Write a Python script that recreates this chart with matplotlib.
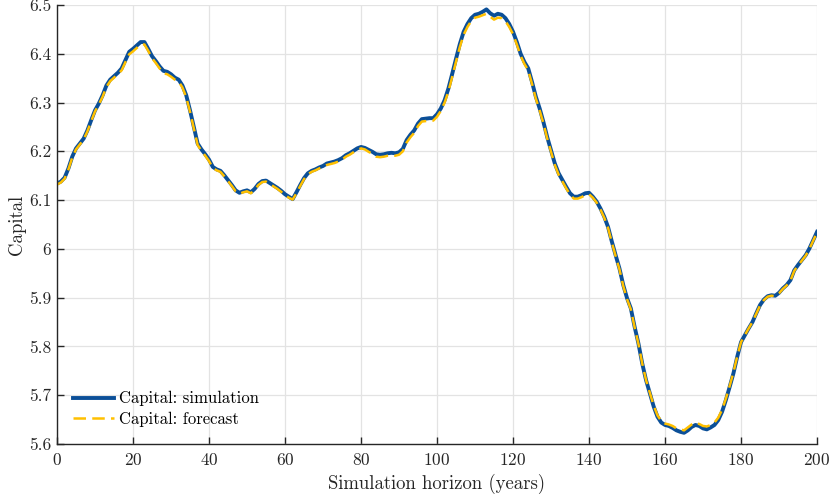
import numpy as np
import matplotlib
matplotlib.use('Agg')
import matplotlib.pyplot as plt
from matplotlib.ticker import FuncFormatter

plt.rcParams['font.family'] = ['cmr10', 'DejaVu Serif']
plt.rcParams['axes.formatter.use_mathtext'] = True

years = np.arange(0, 201)

simulation = [
    6.134, 6.138, 6.146, 6.165, 6.189, 6.206, 6.216, 6.226, 6.243, 6.264,
    6.284, 6.298, 6.315, 6.335, 6.347, 6.354, 6.361, 6.370, 6.387, 6.404,
    6.410, 6.417, 6.424, 6.424, 6.410, 6.395, 6.385, 6.374, 6.365, 6.363,
    6.358, 6.351, 6.347, 6.335, 6.315, 6.284, 6.250, 6.216, 6.204, 6.194,
    6.183, 6.168, 6.163, 6.160, 6.151, 6.141, 6.131, 6.120, 6.115, 6.118,
    6.120, 6.116, 6.123, 6.133, 6.139, 6.140, 6.135, 6.130, 6.125, 6.119,
    6.112, 6.107, 6.102, 6.116, 6.131, 6.145, 6.155, 6.160, 6.163, 6.167,
    6.170, 6.175, 6.177, 6.179, 6.182, 6.186, 6.192, 6.196, 6.201, 6.206,
    6.209, 6.207, 6.203, 6.199, 6.194, 6.193, 6.194, 6.196, 6.197, 6.196,
    6.198, 6.205, 6.223, 6.234, 6.243, 6.257, 6.266, 6.267, 6.268, 6.268,
    6.276, 6.288, 6.305, 6.329, 6.359, 6.390, 6.420, 6.445, 6.461, 6.473,
    6.480, 6.482, 6.486, 6.491, 6.483, 6.478, 6.482, 6.480, 6.473, 6.461,
    6.445, 6.424, 6.400, 6.383, 6.370, 6.342, 6.312, 6.288, 6.260, 6.229,
    6.202, 6.175, 6.155, 6.141, 6.127, 6.114, 6.107, 6.107, 6.110, 6.114,
    6.115, 6.107, 6.097, 6.083, 6.066, 6.045, 6.015, 5.987, 5.960, 5.926,
    5.899, 5.878, 5.840, 5.806, 5.765, 5.731, 5.704, 5.677, 5.656, 5.644,
    5.639, 5.637, 5.633, 5.628, 5.625, 5.623, 5.628, 5.635, 5.639, 5.637,
    5.632, 5.630, 5.634, 5.639, 5.649, 5.666, 5.690, 5.717, 5.745, 5.779,
    5.809, 5.823, 5.837, 5.850, 5.868, 5.885, 5.896, 5.903, 5.905, 5.904,
    5.910, 5.919, 5.926, 5.936, 5.956, 5.967, 5.977, 5.987, 6.001, 6.018,
    6.035,
]

forecast = [
    6.132, 6.136, 6.144, 6.163, 6.187, 6.204, 6.214, 6.224, 6.241, 6.262,
    6.282, 6.296, 6.312, 6.332, 6.344, 6.351, 6.358, 6.366, 6.383, 6.399,
    6.405, 6.412, 6.419, 6.419, 6.406, 6.391, 6.381, 6.370, 6.360, 6.358,
    6.353, 6.347, 6.343, 6.331, 6.311, 6.281, 6.247, 6.213, 6.201, 6.191,
    6.180, 6.166, 6.161, 6.158, 6.149, 6.139, 6.129, 6.118, 6.113, 6.116,
    6.118, 6.114, 6.121, 6.131, 6.137, 6.138, 6.133, 6.128, 6.123, 6.117,
    6.110, 6.105, 6.101, 6.114, 6.129, 6.143, 6.153, 6.158, 6.161, 6.165,
    6.168, 6.172, 6.174, 6.176, 6.179, 6.183, 6.189, 6.193, 6.198, 6.203,
    6.206, 6.204, 6.199, 6.195, 6.189, 6.188, 6.189, 6.191, 6.192, 6.191,
    6.193, 6.200, 6.218, 6.229, 6.238, 6.252, 6.261, 6.262, 6.263, 6.263,
    6.271, 6.283, 6.300, 6.323, 6.353, 6.384, 6.414, 6.439, 6.455, 6.467,
    6.474, 6.476, 6.479, 6.482, 6.476, 6.470, 6.474, 6.473, 6.467, 6.455,
    6.440, 6.419, 6.396, 6.379, 6.366, 6.338, 6.308, 6.284, 6.257, 6.226,
    6.199, 6.172, 6.152, 6.138, 6.124, 6.111, 6.103, 6.103, 6.106, 6.110,
    6.112, 6.105, 6.095, 6.081, 6.064, 6.043, 6.013, 5.985, 5.958, 5.924,
    5.897, 5.876, 5.839, 5.805, 5.765, 5.731, 5.705, 5.679, 5.659, 5.647,
    5.642, 5.640, 5.637, 5.632, 5.630, 5.628, 5.634, 5.640, 5.644, 5.641,
    5.637, 5.636, 5.639, 5.644, 5.654, 5.670, 5.693, 5.719, 5.747, 5.780,
    5.809, 5.823, 5.837, 5.850, 5.867, 5.884, 5.895, 5.902, 5.904, 5.903,
    5.909, 5.918, 5.925, 5.935, 5.955, 5.966, 5.976, 5.986, 6.000, 6.017,
    6.034,
]

fig = plt.figure(figsize=(8.3, 4.94), dpi=100)
ax = fig.add_axes([0.0687, 0.1012, 0.9157, 0.8887])

ax.plot(years, simulation, color='#0B4F98', lw=2.8, label='Capital: simulation')
ax.plot(years, forecast, color='#FFC000', lw=1.8, ls=(0, (5, 2.5)), label='Capital: forecast')

ax.set_xlim(0, 200)
ax.set_ylim(5.6, 6.5)
ax.set_xticks(np.arange(0, 201, 20))
ax.set_yticks(np.arange(5.6, 6.501, 0.1))
ax.yaxis.set_major_formatter(FuncFormatter(lambda v, p: '%g' % round(v, 2)))

ax.grid(True, color='#e3e3e3', lw=0.9)
ax.set_axisbelow(True)
for s in ['top', 'right']:
    ax.spines[s].set_visible(False)
for s in ['left', 'bottom']:
    ax.spines[s].set_color('#262626')
    ax.spines[s].set_linewidth(1.0)
ax.tick_params(direction='in', length=5, width=1, colors='#262626',
               labelsize=12.5, pad=4)
ax.tick_params(axis='x', pad=6)

ax.set_xlabel('Simulation horizon (years)', fontsize=13.5, color='#262626', labelpad=4)
ax.set_ylabel('Capital', fontsize=13.5, color='#262626', labelpad=2)

ax.legend(loc='lower left', frameon=False, fontsize=12, handlelength=2.5,
          handletextpad=0.25, labelspacing=0.3, borderaxespad=0,
          bbox_to_anchor=(0.012, 0.024))

fig.savefig('out.png', dpi=100)
